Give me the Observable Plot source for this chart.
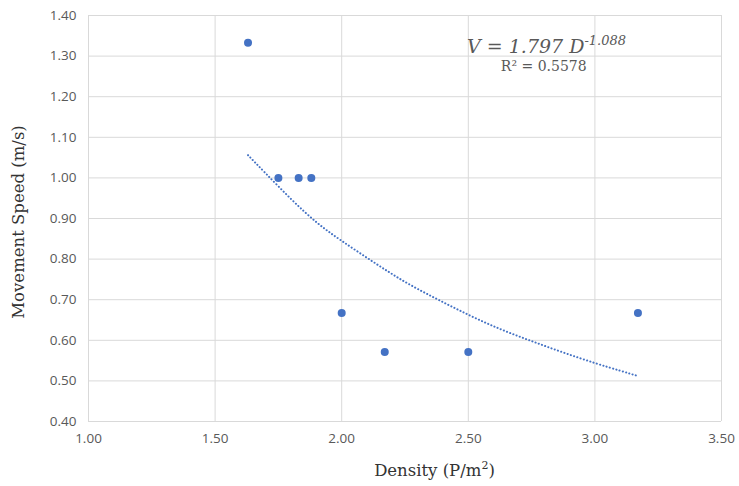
<!DOCTYPE html>
<html>
<head>
<meta charset="utf-8">
<script src="https://cdn.jsdelivr.net/npm/d3@7"></script>
<script src="https://cdn.jsdelivr.net/npm/@observablehq/plot@0.6"></script>
<style>
  body { margin: 0; background: #fff; }
  #chart svg { display: block; }
</style>
</head>
<body>
<div id="chart"></div>
<script>
const density = [1.63, 1.75, 1.83, 1.88, 2.00, 2.17, 2.50, 3.17];
const speed   = [1.333, 1.000, 1.000, 1.000, 0.667, 0.571, 0.571, 0.667];

const trendDensity = [1.63, 1.70, 1.80, 1.90, 2.00, 2.125, 2.25, 2.375, 2.50, 2.625, 2.75, 2.875, 3.00, 3.10, 3.17];
const trendSpeed   = [1.056, 1.011, 0.948, 0.891, 0.845, 0.793, 0.744, 0.702, 0.663, 0.628, 0.598, 0.570, 0.544, 0.525, 0.512];

const xTicks = [1.00, 1.50, 2.00, 2.50, 3.00, 3.50];
const yTicks = [0.40, 0.50, 0.60, 0.70, 0.80, 0.90, 1.00, 1.10, 1.20, 1.30, 1.40];

const pts = density.map((d, i) => ({x: d, y: speed[i]}));
const trend = trendDensity.map((d, i) => ({x: d, y: trendSpeed[i]}));

const color = "#4472c4";
const grid = "#d9d9d9";

const plot = Plot.plot({
  width: 739,
  height: 486,
  marginLeft: 88,
  marginRight: 18,
  marginTop: 15,
  marginBottom: 65,
  style: {background: "#fff", fontFamily: "'Open Sans', sans-serif", fontSize: "13.5px", color: "#595959"},
  x: {domain: [1.0, 3.5], ticks: xTicks, tickFormat: d3.format(".2f"), label: null},
  y: {domain: [0.4, 1.4], ticks: yTicks, tickFormat: d3.format(".2f"), label: null},
  marks: [
    Plot.gridX(xTicks, {stroke: grid, strokeOpacity: 1, strokeWidth: 1}),
    Plot.gridY(yTicks, {stroke: grid, strokeOpacity: 1, strokeWidth: 1}),
    Plot.axisX(xTicks, {tickSize: 0, tickPadding: 12, tickFormat: d3.format(".2f"), fill: "#595959", fontSize: 13.5}),
    Plot.axisY(yTicks, {tickSize: 0, tickPadding: 12, tickFormat: d3.format(".2f"), fill: "#595959", fontSize: 13.5}),
    Plot.line(trend, {x: "x", y: "y", stroke: color, strokeWidth: 2, strokeDasharray: "0.1,3.3", strokeLinecap: "round", curve: "natural"}),
    Plot.dot(pts, {x: "x", y: "y", r: 4, fill: color, stroke: "none"})
  ]
});

document.getElementById("chart").appendChild(plot);

const svg = d3.select(plot);
const sx = plot.scale("x");
const sy = plot.scale("y");

const serif = "'DejaVu Serif', 'Liberation Serif', serif";

// axis titles
svg.append("text")
  .attr("x", (sx.apply(1.0) + sx.apply(3.5)) / 2 + 30)
  .attr("y", 476)
  .attr("text-anchor", "middle")
  .attr("font-family", serif)
  .attr("font-size", 16.5)
  .attr("fill", "#333")
  .call(t => {
    t.append("tspan").text("Density (P/m");
    t.append("tspan").attr("dy", -7).attr("font-size", 11).text("2");
    t.append("tspan").attr("dy", 7).text(")");
  });

svg.append("text")
  .attr("transform", `translate(24,${(sy.apply(0.4) + sy.apply(1.4)) / 2 + 4}) rotate(-90)`)
  .attr("text-anchor", "middle")
  .attr("font-family", serif)
  .attr("font-size", 16.5)
  .attr("fill", "#333")
  .text("Movement Speed (m/s)");

// equation annotation
svg.append("text")
  .attr("x", sx.apply(2.497))
  .attr("y", sy.apply(1.306))
  .attr("text-anchor", "start")
  .attr("font-family", serif)
  .attr("font-style", "italic")
  .attr("font-size", 19)
  .attr("fill", "#595959")
  .call(t => {
    t.append("tspan").text("V = 1.797 D");
    t.append("tspan").attr("dy", -8).attr("font-size", 13).text("-1.088");
  });

svg.append("text")
  .attr("x", sx.apply(2.80))
  .attr("y", sy.apply(1.262))
  .attr("text-anchor", "middle")
  .attr("font-family", serif)
  .attr("font-size", 14)
  .attr("fill", "#595959")
  .text("R² = 0.5578");
</script>
</body>
</html>
